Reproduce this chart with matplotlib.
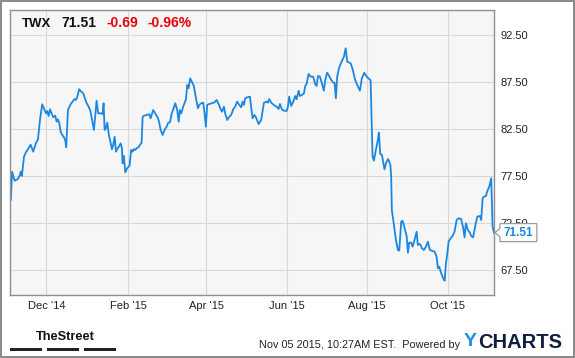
import matplotlib.pyplot as plt
import matplotlib.dates as mdates
import matplotlib.transforms as mtransforms
from matplotlib.patches import Polygon, Rectangle
from matplotlib.ticker import FormatStrFormatter
import pandas as pd

ticker = 'TWX'
last_price = 71.51
change = '-0.69'
change_pct = '-0.96%'
stamp = 'Nov 05 2015, 10:27AM EST.  Powered by'

# days counted from 2014-12-01, closing prices
start = pd.Timestamp('2014-12-01')
days = [-27.0, -26.0, -24.1, -21.6, -20.1, -19.5, -18.6, -17.0, -15.3, -13.5,
        -12.0, -10.0, -8.0, -6.4, -4.9, -3.2, -1.4, -0.4, 0.6, 1.7,
        2.7, 3.9, 5.2, 6.7, 7.7, 8.7, 9.7, 10.8, 12.0, 13.3,
        14.2, 15.0, 16.3, 18.3, 20.3, 21.4, 22.3, 23.3, 24.8, 26.4,
        27.9, 29.4, 30.5, 32.0, 33.3, 36.0, 38.0, 39.2, 41.3, 42.6,
        43.3, 44.1, 45.1, 46.1, 47.3, 48.6, 49.6, 50.6, 51.7, 52.7,
        53.9, 54.9, 56.2, 57.2, 57.7, 58.7, 59.7, 61.2, 63.0, 64.2,
        65.3, 66.3, 67.3, 68.3, 69.8, 70.8, 72.1, 72.9, 73.9, 75.9,
        77.9, 78.9, 79.9, 80.9, 82.4, 84.5, 85.5, 86.5, 88.0, 89.5,
        91.1, 92.3, 93.6, 94.8, 96.1, 97.6, 99.1, 100.2, 101.1, 102.1,
        103.6, 105.7, 106.7, 107.7, 108.9, 110.2, 111.7, 113.3, 114.8, 115.8,
        117.3, 118.8, 119.8, 120.8, 121.8, 123.3, 125.4, 127.4, 128.9, 130.5,
        132.0, 133.0, 134.5, 135.5, 137.0, 138.5, 140.0, 141.5, 143.0, 144.5,
        146.1, 147.6, 148.6, 149.6, 150.6, 152.1, 154.2, 155.2, 156.2, 157.6,
        158.7, 160.8, 162.7, 164.8, 166.8, 167.8, 168.8, 170.3, 172.3, 174.4,
        175.9, 176.9, 178.4, 179.9, 182.0, 183.0, 183.9, 185.5, 187.0, 188.5,
        189.5, 191.1, 192.0, 193.6, 195.1, 196.1, 197.1, 198.6, 200.2, 202.1,
        203.6, 204.7, 205.7, 207.2, 208.7, 210.2, 211.2, 212.7, 214.2, 215.8,
        217.3, 218.3, 219.3, 220.3, 221.6, 223.6, 225.4, 226.7, 227.9, 230.5,
        232.0, 233.9, 235.5, 237.5, 239.0, 240.8, 242.6, 245.6, 247.1, 248.1,
        249.6, 251.1, 251.9, 252.9, 254.2, 256.1, 257.4, 258.9, 260.6, 261.2,
        261.7, 263.3, 264.8, 266.3, 267.3, 268.8, 269.8, 271.4, 272.9, 273.9,
        274.8, 276.4, 277.4, 278.9, 280.5, 281.4, 282.6, 283.5, 284.5, 286.0,
        287.5, 289.0, 290.5, 292.0, 294.1, 295.6, 296.6, 297.6, 299.1, 300.6,
        301.7, 302.7, 303.6, 304.7, 306.2, 307.7, 309.2, 310.8, 312.3, 314.2,
        315.8, 316.8, 317.8, 319.3, 320.8, 321.8, 323.3, 324.8, 326.4, 328.4,
        329.4, 330.5, 331.4, 333.0, 333.9, 335.5, 337.0, 338.0, 339.0]
price = [74.98, 77.99, 77.03, 77.21, 77.64, 77.99, 77.53, 79.59, 80.12, 80.48,
         80.86, 80.12, 81.01, 81.44, 83.49, 85.16, 84.55, 84.20, 84.45, 83.91,
         84.63, 84.20, 83.78, 83.95, 83.31, 83.56, 83.20, 82.24, 81.89, 81.65,
         81.36, 80.59, 84.55, 85.16, 85.54, 85.72, 85.62, 85.90, 86.76, 86.50,
         86.33, 85.69, 85.27, 84.90, 84.45, 82.43, 85.54, 84.20, 84.20, 84.13,
         85.27, 82.43, 82.61, 83.20, 81.89, 81.07, 80.37, 80.83, 81.71, 80.12,
         80.48, 80.65, 81.01, 80.48, 78.88, 79.66, 77.93, 78.35, 78.63, 80.30,
         80.12, 80.40, 80.30, 80.48, 80.59, 80.83, 81.07, 83.84, 83.95, 84.02,
         84.10, 83.67, 84.13, 84.55, 84.20, 83.67, 83.20, 82.43, 81.89, 82.43,
         82.78, 83.20, 83.24, 84.13, 84.63, 85.27, 84.55, 83.31, 84.55, 84.20,
         84.90, 85.69, 87.21, 86.86, 87.93, 87.56, 87.11, 85.80, 84.73, 85.09,
         85.27, 85.33, 84.20, 82.78, 85.09, 85.19, 85.27, 85.37, 85.62, 85.19,
         84.63, 84.37, 84.90, 84.13, 83.49, 83.84, 84.02, 84.63, 84.90, 85.44,
         85.09, 84.84, 85.44, 85.09, 85.80, 85.90, 85.97, 84.73, 83.67, 84.02,
         83.78, 83.06, 83.49, 85.33, 85.44, 85.33, 85.72, 85.33, 85.09, 84.90,
         84.66, 85.19, 84.63, 84.48, 84.45, 84.90, 85.97, 84.98, 85.44, 86.04,
         85.69, 86.61, 86.04, 86.15, 86.33, 87.11, 87.32, 88.38, 88.10, 88.10,
         87.32, 87.11, 88.17, 88.10, 87.39, 86.61, 87.74, 88.52, 88.17, 87.74,
         87.46, 87.46, 85.80, 88.10, 88.99, 89.69, 90.22, 91.12, 89.69, 89.52,
         88.88, 87.74, 87.21, 86.61, 87.93, 88.52, 88.10, 87.71, 79.59, 79.16,
         80.30, 81.36, 82.14, 79.87, 79.77, 78.24, 78.94, 79.34, 78.70, 77.46,
         73.91, 72.32, 70.72, 69.66, 69.59, 72.67, 72.78, 71.97, 71.15, 69.37,
         70.44, 70.44, 70.01, 70.72, 71.61, 70.19, 70.30, 70.19, 69.84, 69.66,
         70.01, 70.54, 69.66, 69.59, 69.48, 68.95, 67.71, 67.88, 67.18, 66.65,
         66.39, 68.24, 69.13, 70.54, 70.90, 71.15, 71.61, 72.85, 73.03, 72.96,
         71.97, 71.01, 72.50, 71.79, 71.50, 71.15, 71.01, 72.14, 73.20, 73.28,
         72.85, 75.16, 75.33, 75.40, 75.86, 76.39, 77.29, 72.20, 71.51]
y_ticks = [67.5, 72.5, 77.5, 82.5, 87.5, 92.5]
tick_months = [12, 2, 4, 6, 8, 10]

plt.rcParams['font.family'] = ['Liberation Sans', 'DejaVu Sans']

blue = '#1b87e0'
red = '#e8000b'

dates = start + pd.to_timedelta(days, unit='D')

fig = plt.figure(figsize=(5.75, 3.58), dpi=100)
fig.patch.set_facecolor('white')
fig.patch.set_edgecolor('#8c8c8c')
fig.patch.set_linewidth(2.8)

ax = fig.add_axes([10 / 575, 63 / 358, 484 / 575, 285 / 358])
ax.set_facecolor('#f6f6f6')
ax.plot(dates, price, color=blue, lw=1.3, solid_joinstyle='round')

ax.set_xlim(start + pd.Timedelta(days=-27.6), start + pd.Timedelta(days=339.1))
ax.set_ylim(64.87, 95.19)

ax.xaxis.set_major_locator(mdates.MonthLocator(bymonth=tick_months))
ax.xaxis.set_major_formatter(mdates.DateFormatter("%b '%y"))
ax.yaxis.tick_right()
ax.set_yticks(y_ticks)
ax.yaxis.set_major_formatter(FormatStrFormatter('%.2f'))
ax.tick_params(axis='both', length=0, labelsize=8, labelcolor='#222222')
ax.tick_params(axis='y', pad=4.5)
ax.tick_params(axis='x', pad=4)
ax.grid(True, color='#d8d8d8', lw=0.8)
ax.set_axisbelow(True)
for s in ax.spines.values():
    s.set_color('#8f8f8f')
    s.set_linewidth(1.0)

# header: ticker, price, change
hy = (358 - 27) / 358
fig.text(22 / 575, hy, ticker, fontsize=9.5, fontweight='bold', color='#111111', va='baseline')
fig.text(61.7 / 575, hy, f'{last_price:.2f}', fontsize=10, fontweight='bold', color='#111111', va='baseline')
fig.text(106.7 / 575, hy, change, fontsize=10, fontweight='bold', color=red, va='baseline')
fig.text(147.7 / 575, hy, change_pct, fontsize=10, fontweight='bold', color=red, va='baseline')

# last price tag pointing at the end of the line
trans = fig.dpi_scale_trans + mtransforms.ScaledTranslation(
    mdates.date2num(dates[-1]), price[-1], ax.transData)
tag = Polygon([(0.01, 0), (0.06, 0.04), (0.06, 0.09), (0.43, 0.09),
               (0.43, -0.09), (0.06, -0.09), (0.06, -0.04)],
              closed=True, facecolor='white', edgecolor='#9a9a9a', lw=0.9,
              transform=trans, zorder=5)
fig.add_artist(tag)
fig.text(0.245, 0, f'{last_price:.2f}', transform=trans, ha='center', va='center',
         fontsize=8.5, fontweight='bold', color=blue, zorder=6)

# footer
fig.text(35.6 / 575, (358 - 337) / 358, 'TheStreet', fontsize=9.2, fontweight='bold',
         color='#111111', va='center')
for x0, x1 in [(10.3, 42.2), (46.9, 78.8), (83.6, 115.5)]:
    fig.add_artist(Rectangle((x0 / 575, (358 - 350.7) / 358), (x1 - x0) / 575, 3 / 358,
                             transform=fig.transFigure, facecolor='#222222', lw=0))
fig.text(460 / 575, (358 - 345.5) / 358, stamp, fontsize=7.8, color='#222222',
         ha='right', va='center')
fig.text(463.5 / 575, (358 - 342) / 358, 'Y', fontsize=14, fontweight='bold',
         color='#1e90e0', va='center')
fig.text(478 / 575, (358 - 342) / 358, 'CHARTS', fontsize=14.5, fontweight='bold',
         color='#0f1f3d', va='center')

fig.savefig('out.png', dpi=100)
